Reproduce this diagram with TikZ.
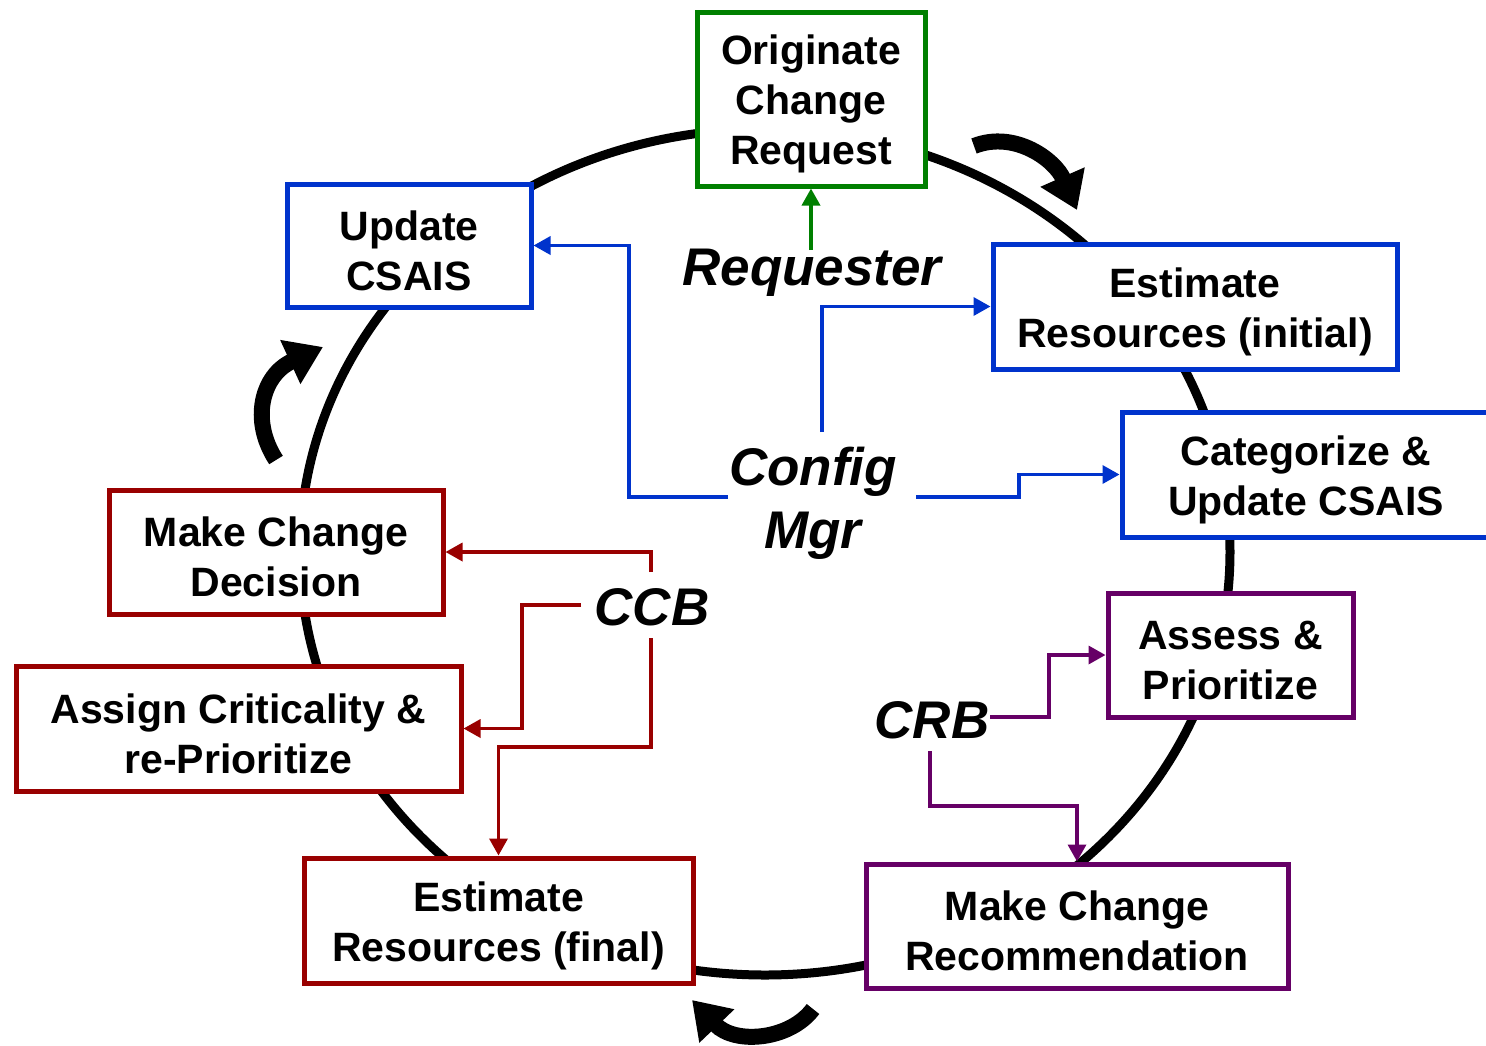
\documentclass[tikz,border=0pt]{standalone}
\usepackage{fontspec}
\setmainfont{Liberation Sans}
\usetikzlibrary{arrows.meta}
\definecolor{cgreen}{RGB}{0,128,0}
\definecolor{cblue}{RGB}{0,51,204}
\definecolor{cred}{RGB}{153,0,0}
\definecolor{cpurple}{RGB}{102,0,102}
\newcommand{\bxst}{\rule{0pt}{40pt}}
\begin{document}
\begin{tikzpicture}[x=1pt,y=-1pt,
  box/.style={draw, line width=5pt, fill=white, align=center, inner sep=0pt,
    font=\fontsize{41}{50}\selectfont\bfseries},
  lbl/.style={align=center, inner sep=0pt, font=\fontsize{53}{63}\selectfont\bfseries\itshape},
  conn/.style={line width=3.5pt, -{Triangle[length=17pt,width=18pt]}},
  bigarrow/.style={line width=16pt, -{Triangle[length=36pt,width=46pt]}},
  ring/.style={line width=9pt}]
\useasboundingbox (0,0) rectangle (1486,1045);
\draw[ring] (765,552) ellipse [x radius=465pt, y radius=423pt];

\node[box, draw=cgreen, minimum width=228pt, minimum height=174pt] (orig) at (811,99) {\bxst Originate\\Change\\Request};
\node[box, draw=cblue, minimum width=244pt, minimum height=123pt] (upd) at (409,245.5) {\bxst Update\\CSAIS};
\node[box, draw=cblue, minimum width=404pt, minimum height=125pt] (estI) at (1195,306.5) {\bxst Estimate\\Resources (initial)};
\node[box, draw=cblue, minimum width=368pt, minimum height=125pt] (cat) at (1306,474.5) {\bxst Categorize \&\\Update CSAIS};
\node[box, draw=cpurple, minimum width=245pt, minimum height=124pt] (assess) at (1230.5,655) {\bxst Assess \&\\Prioritize};
\node[box, draw=cpurple, minimum width=422pt, minimum height=124pt] (mcr) at (1077,926) {\bxst Make Change\\Recommendation};
\node[box, draw=cred, minimum width=389pt, minimum height=125pt] (estF) at (498.5,920.5) {\bxst Estimate\\Resources (final)};
\node[box, draw=cred, minimum width=445pt, minimum height=125pt] (assign) at (238.5,728.5) {\bxst Assign Criticality \&\\re-Prioritize};
\node[box, draw=cred, minimum width=334pt, minimum height=124pt] (mcd) at (276,552) {\bxst Make Change\\Decision};

\node[lbl] (req) at (812,273) {Requester};
\node[lbl] (cfg) at (813,503) {Config\\Mgr};
\node[lbl] (ccb) at (652,607) {CCB};
\node[lbl] (crb) at (932,720) {CRB};

\coordinate (reqT) at (811,250);
\coordinate (cfgA) at (728,497);
\coordinate (cfgB) at (822,432);
\coordinate (cfgC) at (916,497);
\coordinate (ccbA) at (651,572);
\coordinate (ccbB) at (581,605);
\coordinate (ccbC) at (651,638);
\coordinate (crbA) at (990,717);
\coordinate (crbB) at (930,751);

\draw[conn, cgreen] (reqT) -- (orig.south);
\draw[conn, cblue] (cfgA) -- (629,497) |- (upd.east);
\draw[conn, cblue] (cfgB) |- (estI.west);
\draw[conn, cblue] (cfgC) -- (1019,497) |- (cat.west);
\draw[conn, cred] (ccbA) |- (mcd.east);
\draw[conn, cred] (ccbB) -- (522,605) |- (assign.east);
\draw[conn, cred] (ccbC) |- (498.5,747) -- (estF.north);
\draw[conn, cpurple] (crbA) -- (1049,717) |- (assess.west);
\draw[conn, cpurple] (crbB) |- (1077,806) -- (mcr.north);

\draw[bigarrow] (974,146) .. controls (1015,130) and (1055,160) .. (1077,210);
\draw[bigarrow] (276,460) .. controls (250,420) and (262,375) .. (323,347);
\draw[bigarrow] (813,1009) .. controls (790,1040) and (735,1045) .. (692,1000);
\end{tikzpicture}
\end{document}
